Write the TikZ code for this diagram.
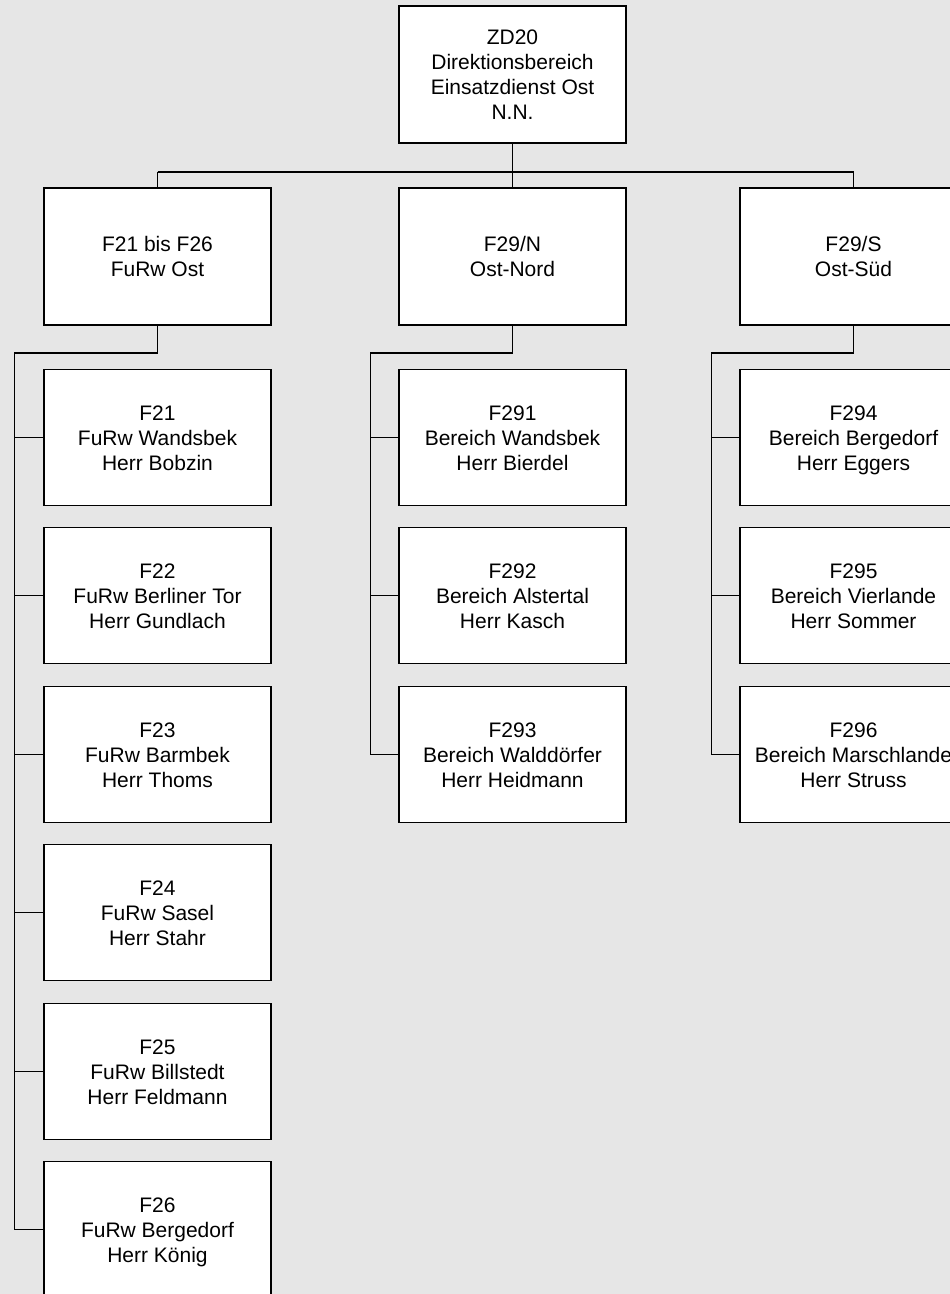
\documentclass[tikz,border=0pt]{standalone}
\usepackage{fontspec}
\setmainfont{Liberation Sans}
\definecolor{bg}{RGB}{230,230,230}
\newcommand{\tp}{\rule{0pt}{19.5pt}}
\newcommand{\bt}{\rule[-4.5pt]{0pt}{4.5pt}}
\begin{document}
\begin{tikzpicture}[x=1pt,y=-1pt,
  box/.style={draw=black,line width=1.2pt,fill=white,minimum width=227pt,minimum height=136pt,inner sep=0pt,align=center,font=\fontsize{21}{25}\selectfont},
  bus/.style={line width=1.8pt},
  twig/.style={line width=1pt}]
\useasboundingbox (0,0) rectangle (950,1294);
\fill[bg] (0,0) rectangle (950,1294);
\clip (0,0) rectangle (950,1294);
% nodes
\node[box,minimum height=137pt] (top) at (512.5,74.5) {\tp ZD20\\Direktionsbereich\\Einsatzdienst Ost\\N.N.\bt};
\node[box,minimum height=137pt] (l1) at (157.5,256.5) {\tp F21 bis F26\\FuRw Ost\bt};
\node[box,minimum height=137pt] (l2) at (512.5,256.5) {\tp F29/N\\Ost-Nord\bt};
\node[box,minimum height=137pt] (l3) at (853.5,256.5) {\tp F29/S\\Ost-Süd\bt};
\node[box] (c21) at (157.5,437.5) {\tp F21\\FuRw Wandsbek\\Herr Bobzin\bt};
\node[box] (c22) at (157.5,595.5) {\tp F22\\FuRw Berliner Tor\\Herr Gundlach\bt};
\node[box] (c23) at (157.5,754.5) {\tp F23\\FuRw Barmbek\\Herr Thoms\bt};
\node[box] (c24) at (157.5,912.5) {\tp F24\\FuRw Sasel\\Herr Stahr\bt};
\node[box] (c25) at (157.5,1071.5) {\tp F25\\FuRw Billstedt\\Herr Feldmann\bt};
\node[box] (c26) at (157.5,1229.5) {\tp F26\\FuRw Bergedorf\\Herr König\bt};
\node[box] (c291) at (512.5,437.5) {\tp F291\\Bereich Wandsbek\\Herr Bierdel\bt};
\node[box] (c292) at (512.5,595.5) {\tp F292\\Bereich Alstertal\\Herr Kasch\bt};
\node[box] (c293) at (512.5,754.5) {\tp F293\\Bereich Walddörfer\\Herr Heidmann\bt};
\node[box] (c294) at (853.5,437.5) {\tp F294\\Bereich Bergedorf\\Herr Eggers\bt};
\node[box] (c295) at (853.5,595.5) {\tp F295\\Bereich Vierlande\\Herr Sommer\bt};
\node[box] (c296) at (853.5,754.5) {\tp F296\\Bereich Marschlande\\Herr Struss\bt};
% top bus
\draw[bus] (top.south) -- ++(0,28) coordinate (b0);
\draw[bus] (l1.north |- b0) -- (l3.north |- b0);
\foreach \n in {l1,l2,l3} \draw[twig] (\n.north |- b0) -- (\n.north);
% column 1
\draw[bus] (l1.south) -- ++(0,27) -| ([xshift=-29pt]c26.west);
\foreach \n in {c21,c22,c23,c24,c25,c26} \draw[twig] (\n.west) -- ++(-29,0);
% column 2
\draw[bus] (l2.south) -- ++(0,27) -| ([xshift=-28pt]c293.west);
\foreach \n in {c291,c292,c293} \draw[twig] (\n.west) -- ++(-28,0);
% column 3
\draw[bus] (l3.south) -- ++(0,27) -| ([xshift=-28pt]c296.west);
\foreach \n in {c294,c295,c296} \draw[twig] (\n.west) -- ++(-28,0);
\end{tikzpicture}
\end{document}
